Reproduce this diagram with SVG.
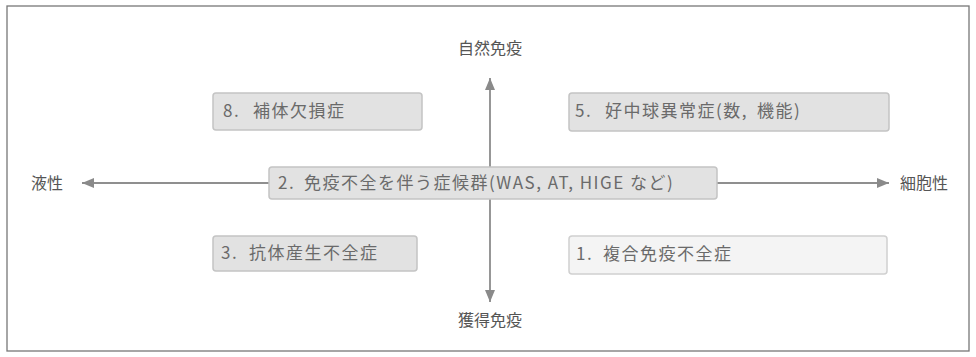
<svg xmlns="http://www.w3.org/2000/svg" width="976" height="357" viewBox="0 0 976 357">
<defs>
<style>
.box{fill:#e2e2e2;stroke:#c4c4c4;stroke-width:1.5}
.box1{fill:#f4f4f4;stroke:#d0d0d0;stroke-width:1.5}
.t{font-family:"Noto Sans CJK JP","Noto Sans",sans-serif;font-size:17px;letter-spacing:1.5px;fill:#6a6a6a}
.ax{font-family:"Noto Sans CJK JP","Noto Sans",sans-serif;font-size:16px;fill:#555}
.ln{stroke:#6a6a6a;stroke-width:1.4;fill:none}
</style>
<marker id="ah" viewBox="0 0 12 10" refX="12" refY="5" markerWidth="12" markerHeight="10" markerUnits="userSpaceOnUse" orient="auto">
<path d="M0,0 L12,5 L0,10 Z" fill="#8a8a8a"/>
</marker>
</defs>
<rect x="7" y="6" width="962" height="345" fill="#fff" stroke="#777" stroke-width="1.3"/>
<g id="connectors">
<line class="ln" x1="490" y1="183" x2="490" y2="78" marker-end="url(#ah)"/>
<line class="ln" x1="490" y1="183" x2="490" y2="302" marker-end="url(#ah)"/>
<line class="ln" x1="490" y1="183" x2="82" y2="183" marker-end="url(#ah)"/>
<line class="ln" x1="490" y1="183" x2="889" y2="183" marker-end="url(#ah)"/>
</g>
<g id="axis-top"><text class="ax" x="490" y="54" text-anchor="middle">自然免疫</text></g>
<g id="axis-bottom"><text class="ax" x="490" y="326" text-anchor="middle">獲得免疫</text></g>
<g id="axis-left"><text class="ax" x="47" y="189" text-anchor="middle">液性</text></g>
<g id="axis-right"><text class="ax" x="924" y="189" text-anchor="middle">細胞性</text></g>
<g id="n8"><rect class="box" x="213" y="93" width="209" height="37" rx="3"/><text class="t" x="223" y="117">8. <tspan x="253">補体欠損症</tspan></text></g>
<g id="n5"><rect class="box" x="569" y="93" width="320" height="38" rx="3"/><text class="t" x="575" y="117">5. <tspan x="605">好中球異常症(数,</tspan><tspan dx="9">機能)</tspan></text></g>
<g id="n2"><rect class="box" x="269" y="167" width="448" height="32" rx="3"/><text class="t" x="278" y="189">2. <tspan x="304">免疫不全を伴う症候群(WAS, AT, HIGE など)</tspan></text></g>
<g id="n3"><rect class="box" x="213" y="236" width="204" height="35" rx="3"/><text class="t" x="221" y="259">3. <tspan x="249">抗体産生不全症</tspan></text></g>
<g id="n1"><rect class="box1" x="569" y="236" width="318" height="38" rx="3"/><text class="t" x="576" y="260">1. <tspan x="603">複合免疫不全症</tspan></text></g>
</svg>
